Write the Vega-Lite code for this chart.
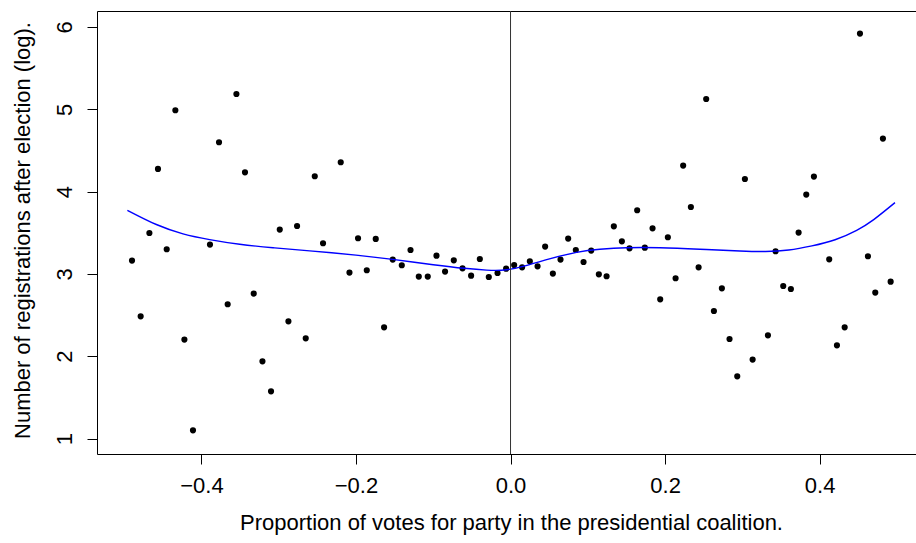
{
  "$schema": "https://vega.github.io/schema/vega-lite/v6.json",
  "width": 819,
  "height": 443,
  "autosize": "none",
  "padding": {"left": 97, "top": 11, "right": 0, "bottom": 89},
  "background": "white",
  "config": {
    "view": {"stroke": null},
    "axis": {
      "domainColor": "black", "tickColor": "black", "labelColor": "black", "titleColor": "black",
      "labelFont": "Liberation Sans", "titleFont": "Liberation Sans",
      "labelFontSize": 22, "titleFontSize": 22, "titleFontWeight": "normal",
      "grid": false, "tickSize": 10, "domainWidth": 1, "tickWidth": 1
    }
  },
  "datasets": {
    "pts": [
      {"x": -0.4898, "y": 3.162}, {"x": -0.4786, "y": 2.485}, {"x": -0.4673, "y": 3.497}, {"x": -0.4562, "y": 4.275},
      {"x": -0.4449, "y": 3.299}, {"x": -0.4337, "y": 4.988}, {"x": -0.4220, "y": 2.202}, {"x": -0.4109, "y": 1.100},
      {"x": -0.3889, "y": 3.356}, {"x": -0.3772, "y": 4.599}, {"x": -0.3660, "y": 2.631}, {"x": -0.3547, "y": 5.186},
      {"x": -0.3436, "y": 4.234}, {"x": -0.3323, "y": 2.761}, {"x": -0.3210, "y": 1.938}, {"x": -0.3099, "y": 1.573},
      {"x": -0.2986, "y": 3.538}, {"x": -0.2874, "y": 2.424}, {"x": -0.2762, "y": 3.582}, {"x": -0.2650, "y": 2.217},
      {"x": -0.2533, "y": 4.186}, {"x": -0.2426, "y": 3.372}, {"x": -0.2197, "y": 4.356}, {"x": -0.2084, "y": 3.016},
      {"x": -0.1973, "y": 3.433}, {"x": -0.1860, "y": 3.044}, {"x": -0.1744, "y": 3.425}, {"x": -0.1636, "y": 2.351},
      {"x": -0.1524, "y": 3.174}, {"x": -0.1407, "y": 3.105}, {"x": -0.1294, "y": 3.290}, {"x": -0.1187, "y": 2.967},
      {"x": -0.1071, "y": 2.967}, {"x": -0.0958, "y": 3.222}, {"x": -0.0847, "y": 3.028}, {"x": -0.0734, "y": 3.165},
      {"x": -0.0621, "y": 3.068}, {"x": -0.0510, "y": 2.979}, {"x": -0.0397, "y": 3.181}, {"x": -0.0281, "y": 2.962},
      {"x": -0.0168, "y": 3.011}, {"x": -0.0057, "y": 3.064},
      {"x": 0.0047, "y": 3.108}, {"x": 0.0150, "y": 3.080}, {"x": 0.0250, "y": 3.153}, {"x": 0.0350, "y": 3.092},
      {"x": 0.0448, "y": 3.332}, {"x": 0.0548, "y": 3.004}, {"x": 0.0647, "y": 3.174}, {"x": 0.0746, "y": 3.429},
      {"x": 0.0845, "y": 3.290}, {"x": 0.0945, "y": 3.145}, {"x": 0.1044, "y": 3.283}, {"x": 0.1143, "y": 2.995},
      {"x": 0.1243, "y": 2.971}, {"x": 0.1337, "y": 3.578}, {"x": 0.1441, "y": 3.396}, {"x": 0.1540, "y": 3.311},
      {"x": 0.1639, "y": 3.773}, {"x": 0.1738, "y": 3.319}, {"x": 0.1838, "y": 3.554}, {"x": 0.1937, "y": 2.691},
      {"x": 0.2036, "y": 3.445}, {"x": 0.2136, "y": 2.947}, {"x": 0.2234, "y": 4.316}, {"x": 0.2334, "y": 3.813},
      {"x": 0.2434, "y": 3.080}, {"x": 0.2532, "y": 5.125}, {"x": 0.2632, "y": 2.549}, {"x": 0.2735, "y": 2.825},
      {"x": 0.2834, "y": 2.209}, {"x": 0.2934, "y": 1.756}, {"x": 0.3033, "y": 4.153}, {"x": 0.3133, "y": 1.959},
      {"x": 0.3331, "y": 2.254}, {"x": 0.3430, "y": 3.275}, {"x": 0.3529, "y": 2.853}, {"x": 0.3628, "y": 2.817},
      {"x": 0.3728, "y": 3.502}, {"x": 0.3827, "y": 3.964}, {"x": 0.3926, "y": 4.182}, {"x": 0.4124, "y": 3.177},
      {"x": 0.4224, "y": 2.132}, {"x": 0.4324, "y": 2.351}, {"x": 0.4522, "y": 5.920}, {"x": 0.4625, "y": 3.214},
      {"x": 0.4720, "y": 2.773}, {"x": 0.4819, "y": 4.644}, {"x": 0.4919, "y": 2.906}
    ],
    "fit": [
      {"x": -0.4958, "y": 3.773}, {"x": -0.4583, "y": 3.600}, {"x": -0.4238, "y": 3.487}, {"x": -0.3893, "y": 3.417},
      {"x": -0.3504, "y": 3.360}, {"x": -0.3073, "y": 3.318}, {"x": -0.2598, "y": 3.280}, {"x": -0.2000, "y": 3.228},
      {"x": -0.1524, "y": 3.176}, {"x": -0.1000, "y": 3.112}, {"x": -0.0600, "y": 3.068}, {"x": -0.0310, "y": 3.046},
      {"x": -0.0050, "y": 3.050}, {"x": 0.0200, "y": 3.100}, {"x": 0.0444, "y": 3.168},
      {"x": 0.0854, "y": 3.262}, {"x": 0.1156, "y": 3.300}, {"x": 0.1500, "y": 3.318}, {"x": 0.1933, "y": 3.318},
      {"x": 0.2450, "y": 3.300}, {"x": 0.2968, "y": 3.278}, {"x": 0.3300, "y": 3.272}, {"x": 0.3600, "y": 3.290},
      {"x": 0.3900, "y": 3.340}, {"x": 0.4200, "y": 3.415}, {"x": 0.4479, "y": 3.530}, {"x": 0.4700, "y": 3.660},
      {"x": 0.4975, "y": 3.866}
    ]
  },
  "layer": [
    {
      "data": {"name": "pts"},
      "mark": {"type": "point", "filled": true, "color": "black", "size": 38, "opacity": 1},
      "encoding": {
        "x": {
          "field": "x", "type": "quantitative",
          "scale": {"domain": [-0.5351, 0.5247], "nice": false, "zero": false},
          "axis": {
            "orient": "bottom", "values": [-0.4, -0.2, 0, 0.2, 0.4], "format": ".1f",
            "labelPadding": 11, "labelFlush": false,
            "title": "Proportion of votes for party in the presidential coalition.",
            "titleX": 414, "titleY": 75, "titleAlign": "center", "titleBaseline": "alphabetic"
          }
        },
        "y": {
          "field": "y", "type": "quantitative",
          "scale": {"domain": [0.812, 6.194], "nice": false, "zero": false},
          "axis": {
            "values": [1, 2, 3, 4, 5, 6], "format": "d",
            "labelAngle": -90, "labelAlign": "center", "labelBaseline": "bottom", "labelPadding": 11, "labelFlush": false,
            "title": "Number of registrations after election (log).",
            "titleX": -68, "titleY": 219, "titleAngle": -90, "titleAlign": "center", "titleBaseline": "alphabetic"
          }
        }
      }
    },
    {
      "data": {"name": "fit"},
      "mark": {"type": "line", "color": "#0000ff", "strokeWidth": 1.4, "interpolate": "natural"},
      "encoding": {
        "x": {"field": "x", "type": "quantitative", "axis": null},
        "y": {"field": "y", "type": "quantitative"}
      }
    },
    {
      "data": {"values": [{}]},
      "mark": {"type": "rule", "color": "#333333", "strokeWidth": 1},
      "encoding": {
        "x": {
          "datum": 0, "type": "quantitative",
          "axis": {"orient": "top", "labels": false, "ticks": false, "title": null, "domain": true, "grid": false}
        }
      }
    }
  ],
  "resolve": {"axis": {"x": "independent"}}
}
